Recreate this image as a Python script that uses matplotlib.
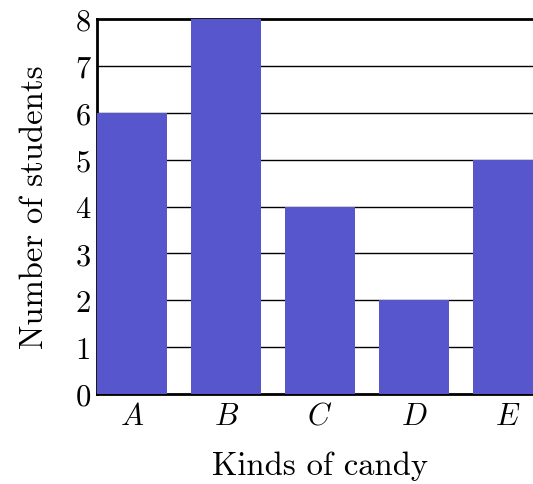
import matplotlib
matplotlib.use("Agg")
import matplotlib.pyplot as plt

categories = ["A", "B", "C", "D", "E"]
values = [6, 8, 4, 2, 5]
yticks = [0, 1, 2, 3, 4, 5, 6, 7, 8]

plt.rcParams["font.family"] = "serif"
plt.rcParams["font.serif"] = ["cmr10"]
plt.rcParams["mathtext.fontset"] = "cm"
plt.rcParams["axes.formatter.use_mathtext"] = True

fig = plt.figure(figsize=(5.33, 4.85), dpi=100)
ax = fig.add_axes([97/533, 90/485, 446/533, 375/485])
x = list(range(len(categories)))
ax.bar(x, values, width=0.75, color="#5856cc", zorder=3)
for y in yticks[1:-1]:
    ax.axhline(y, color="black", lw=1.0, zorder=1)
ax.set_xlim(-0.375, 4.375)
ax.set_ylim(0, 8)
ax.set_xticks(x)
ax.set_xticklabels([f"${c}$" for c in categories], fontsize=22)
ax.set_yticks(yticks)
ax.set_yticklabels([str(v) for v in yticks], fontsize=22)
ax.tick_params(axis="y", length=0, pad=4.5)
ax.tick_params(axis="x", length=0, pad=6)
ax.spines["right"].set_visible(False)
for s in ["left", "bottom", "top"]:
    ax.spines[s].set_linewidth(2)
ax.set_xlabel("Kinds of candy", fontsize=23.5, labelpad=15)
ax.set_ylabel("Number of students", fontsize=23.5, labelpad=19)
fig.savefig("out.png", dpi=100)
